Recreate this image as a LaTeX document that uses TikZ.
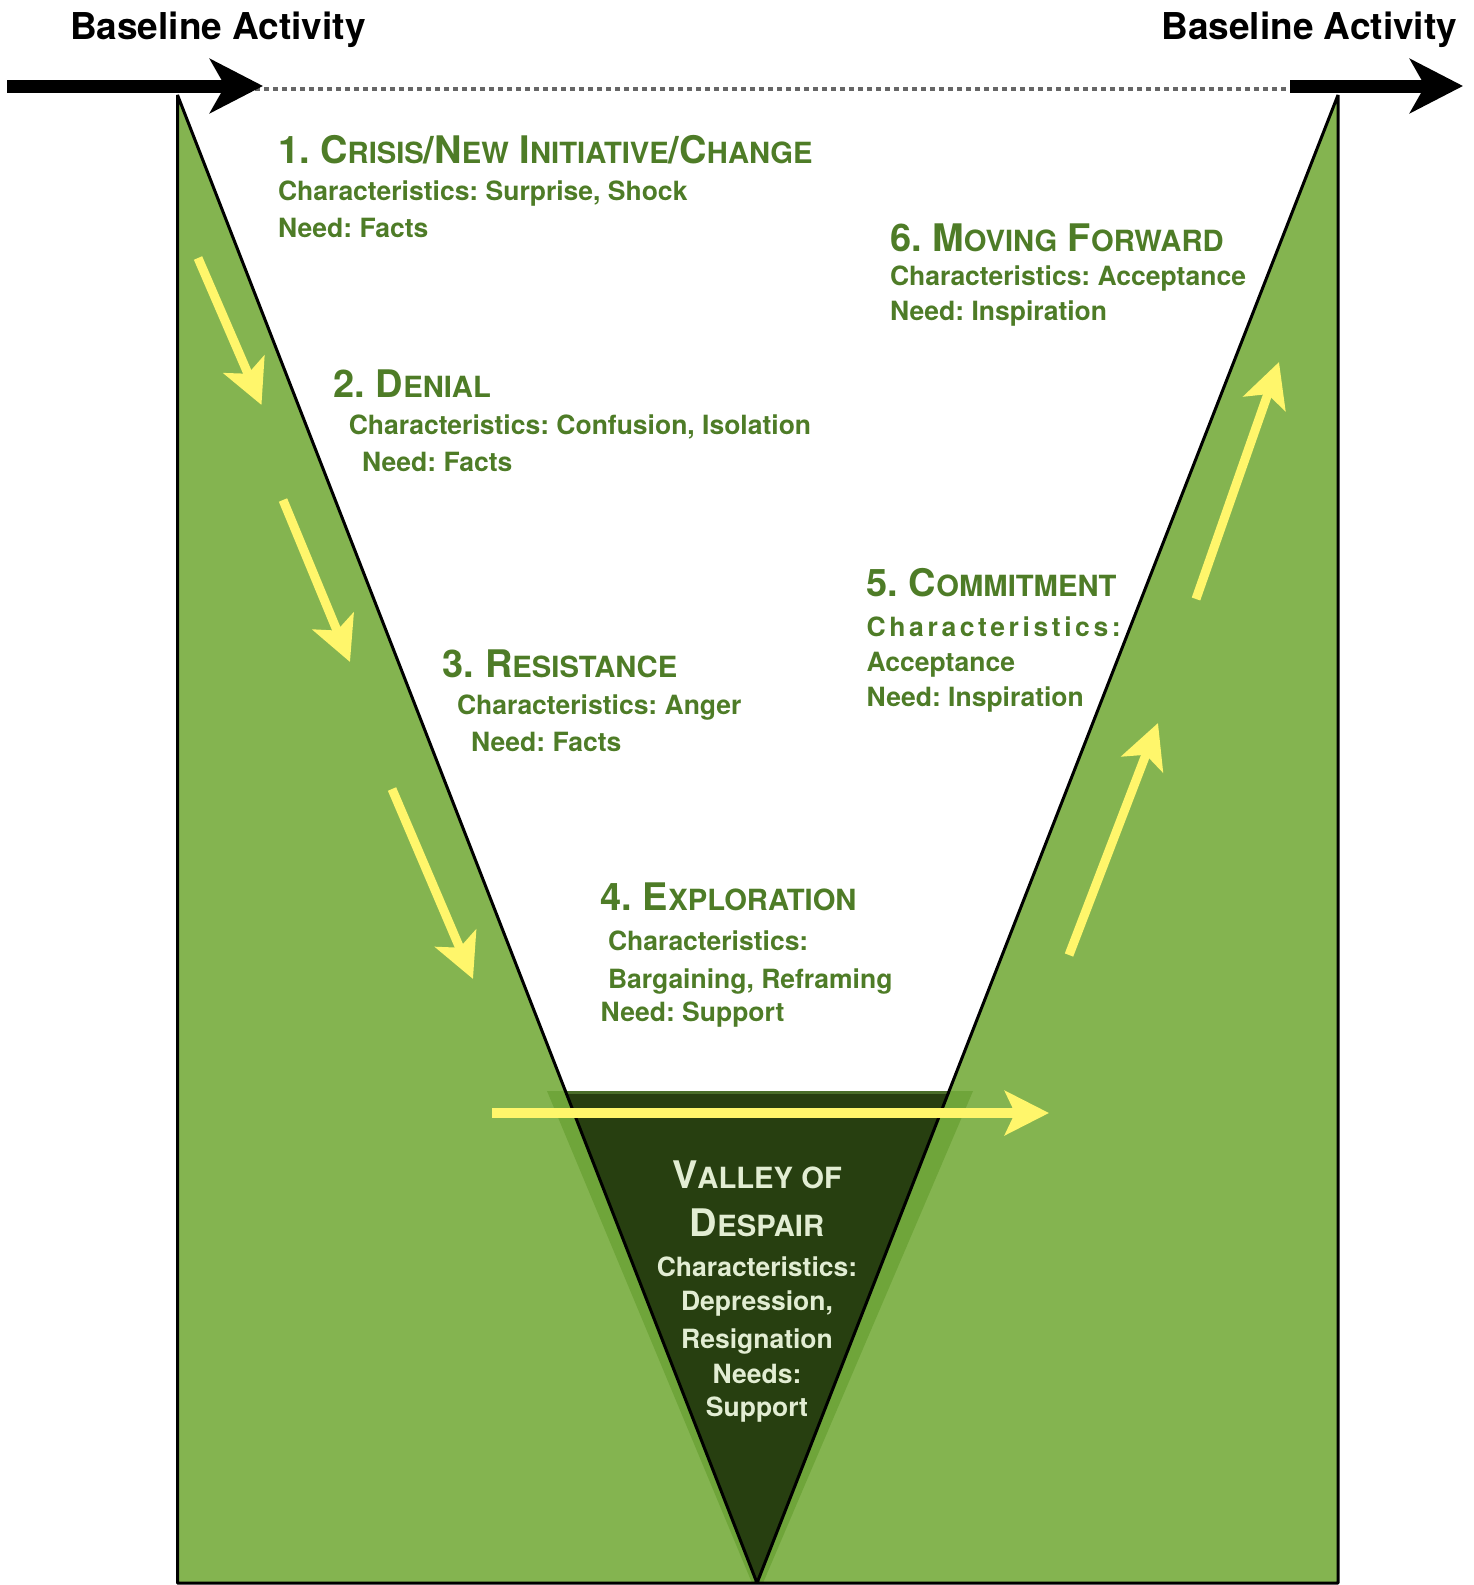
\documentclass[tikz,border=0pt]{standalone}
\usepackage{fontspec}
\setmainfont{TeX Gyre Heros}
\usetikzlibrary{arrows.meta}
\frenchspacing
\definecolor{lgreen}{HTML}{84B450}
\definecolor{halo}{HTML}{6FA53A}
\definecolor{dgreen}{HTML}{273F10}
\definecolor{dedge}{HTML}{4A6E2A}
\definecolor{tgreen}{HTML}{4E7C27}
\definecolor{vtext}{HTML}{E2EDD3}
\definecolor{yarrow}{HTML}{FFF66B}
\definecolor{dotgray}{HTML}{666666}
\newcommand\SCx[1]{{\fontsize{29.2}{29.2}\selectfont #1}}
\begin{document}
\begin{tikzpicture}[x=1pt,y=-1pt,
  every node/.style={inner sep=0pt,outer sep=0pt},
  ttl/.style={anchor=base west,text=tgreen,font=\fontsize{38}{38}\selectfont\bfseries},
  bdy/.style={anchor=base west,text=tgreen,font=\fontsize{26.5}{26.5}\selectfont\bfseries},
  vttl/.style={anchor=base,text=vtext,font=\fontsize{38}{38}\selectfont\bfseries},
  vbdy/.style={anchor=base,text=vtext,font=\fontsize{26.5}{26.5}\selectfont\bfseries},
  blk/.style={anchor=base,text=black,font=\fontsize{37}{37}\selectfont\bfseries},
  yarr/.style={draw=yarrow,line width=9pt,-{Stealth[length=44pt,width=44pt,inset=10pt]}},
  barr/.style={draw=black,line width=13pt,-{Stealth[length=53pt,width=54pt,inset=15pt]}}]
\useasboundingbox (0,0) rectangle (1474,1585);
% coordinates
\coordinate (TL) at (177.5,95);
\coordinate (TR) at (1338,95);
\coordinate (BL) at (177.5,1583);
\coordinate (BR) at (1338,1583);
\coordinate (AP) at (757,1583);
% green shape
\fill[lgreen] (TL) -- (AP) -- (TR) -- (BR) -- (BL) -- cycle;
% halo and valley
\fill[halo] (547,1091) -- (973,1091) -- (763,1583) -- (752,1583) -- cycle;
\fill[dgreen] (565.4,1091) -- (949,1091) -- (AP) -- cycle;
\draw[dedge,line width=3pt] (566.5,1092.5) -- (948,1092.5);
% outline
\draw[black,line width=3pt,line join=bevel] (TL) -- (AP) -- (TR) -- (BR) -- (BL) -- cycle;
% top arrows
\coordinate (a1s) at (7,86);
\coordinate (a1e) at (263,86);
\coordinate (d1) at (255,89);
\coordinate (d2) at (1295,89);
\coordinate (a2s) at (1290,86);
\coordinate (a2e) at (1463,86);
\draw[dotgray,line width=4.5pt,dash pattern=on 5pt off 4pt] (d1) -- (d2);
\draw[barr] (a1s) -- (a1e);
\draw[barr] (a2s) -- (a2e);
\node[blk,anchor=base west] (bl1) at (70,39) {Baseline Activity};
\node[blk,anchor=base east] (bl2) at (1457,39) {Baseline Activity};
% yellow arrows
\coordinate (y1s) at (198,258);   \coordinate (y1e) at (261.5,405);
\coordinate (y2s) at (283,500);   \coordinate (y2e) at (350,662);
\coordinate (y3s) at (392,789);   \coordinate (y3e) at (473,979);
\coordinate (yhs) at (492,1113);  \coordinate (yhe) at (1049,1113);
\coordinate (y5s) at (1069,955);  \coordinate (y5e) at (1158,723);
\coordinate (y6s) at (1196,599);  \coordinate (y6e) at (1279,362);
\draw[yarr] (y1s) -- (y1e);
\draw[yarr] (y2s) -- (y2e);
\draw[yarr] (y3s) -- (y3e);
\draw[yarr,line width=10pt] (yhs) -- (yhe);
\draw[yarr] (y5s) -- (y5e);
\draw[yarr] (y6s) -- (y6e);
% section 1
\node[ttl] (s1t) at (278,163) {1. C\SCx{RISIS}/N\SCx{EW} I\SCx{NITIATIVE}/C\SCx{HANGE}};
\node[bdy] (s1c) at (278,200) {Characteristics: Surprise, Shock};
\node[bdy] (s1n) at (278,237) {Need: Facts};
% section 6
\node[ttl] (s6t) at (890,251) {6. M\SCx{OVING} F\SCx{ORWARD}};
\node[bdy] (s6c) at (890,285.5) {Characteristics: Acceptance};
\node[bdy] (s6n) at (890,320) {Need: Inspiration};
% section 2
\node[ttl] (s2t) at (333.6,397) {2. D\SCx{ENIAL}};
\node[bdy] (s2c) at (348.8,434) {Characteristics: Confusion, Isolation};
\node[bdy] (s2n) at (362,471.5) {Need: Facts};
% section 3
\node[ttl] (s3t) at (442.8,677) {3. R\SCx{ESISTANCE}};
\node[bdy] (s3c) at (457,714) {Characteristics: Anger};
\node[bdy] (s3n) at (471,751.5) {Need: Facts};
% section 4
\node[ttl] (s4t) at (600.7,910.7) {4. E\SCx{XPLORATION}};
\node[bdy] (s4c) at (608,950.7) {Characteristics:};
\node[bdy] (s4b) at (608,988) {Bargaining, Reframing};
\node[bdy] (s4n) at (600.7,1021.7) {Need: Support};
% section 5
\node[ttl] (s5t) at (866.7,596.7) {5. C\SCx{OMMITMENT}};
\node[bdy] (s5c) at (866.7,636) {\addfontfeature{LetterSpace=13.5}Characteristics:};
\node[bdy] (s5a) at (866.7,671) {Acceptance};
\node[bdy] (s5n) at (866.7,706.7) {Need: Inspiration};
% valley
\node[vttl] (v1) at (757,1188.3) {V\SCx{ALLEY OF}};
\node[vttl] (v2) at (757,1236.7) {D\SCx{ESPAIR}};
\node[vbdy] (v3) at (757,1276.7) {Characteristics:};
\node[vbdy] (v4) at (757,1310) {Depression,};
\node[vbdy] (v5) at (757,1348.3) {Resignation};
\node[vbdy] (v6) at (757,1383.3) {Needs:};
\node[vbdy] (v7) at (757,1416.7) {Support};
\end{tikzpicture}
\end{document}
